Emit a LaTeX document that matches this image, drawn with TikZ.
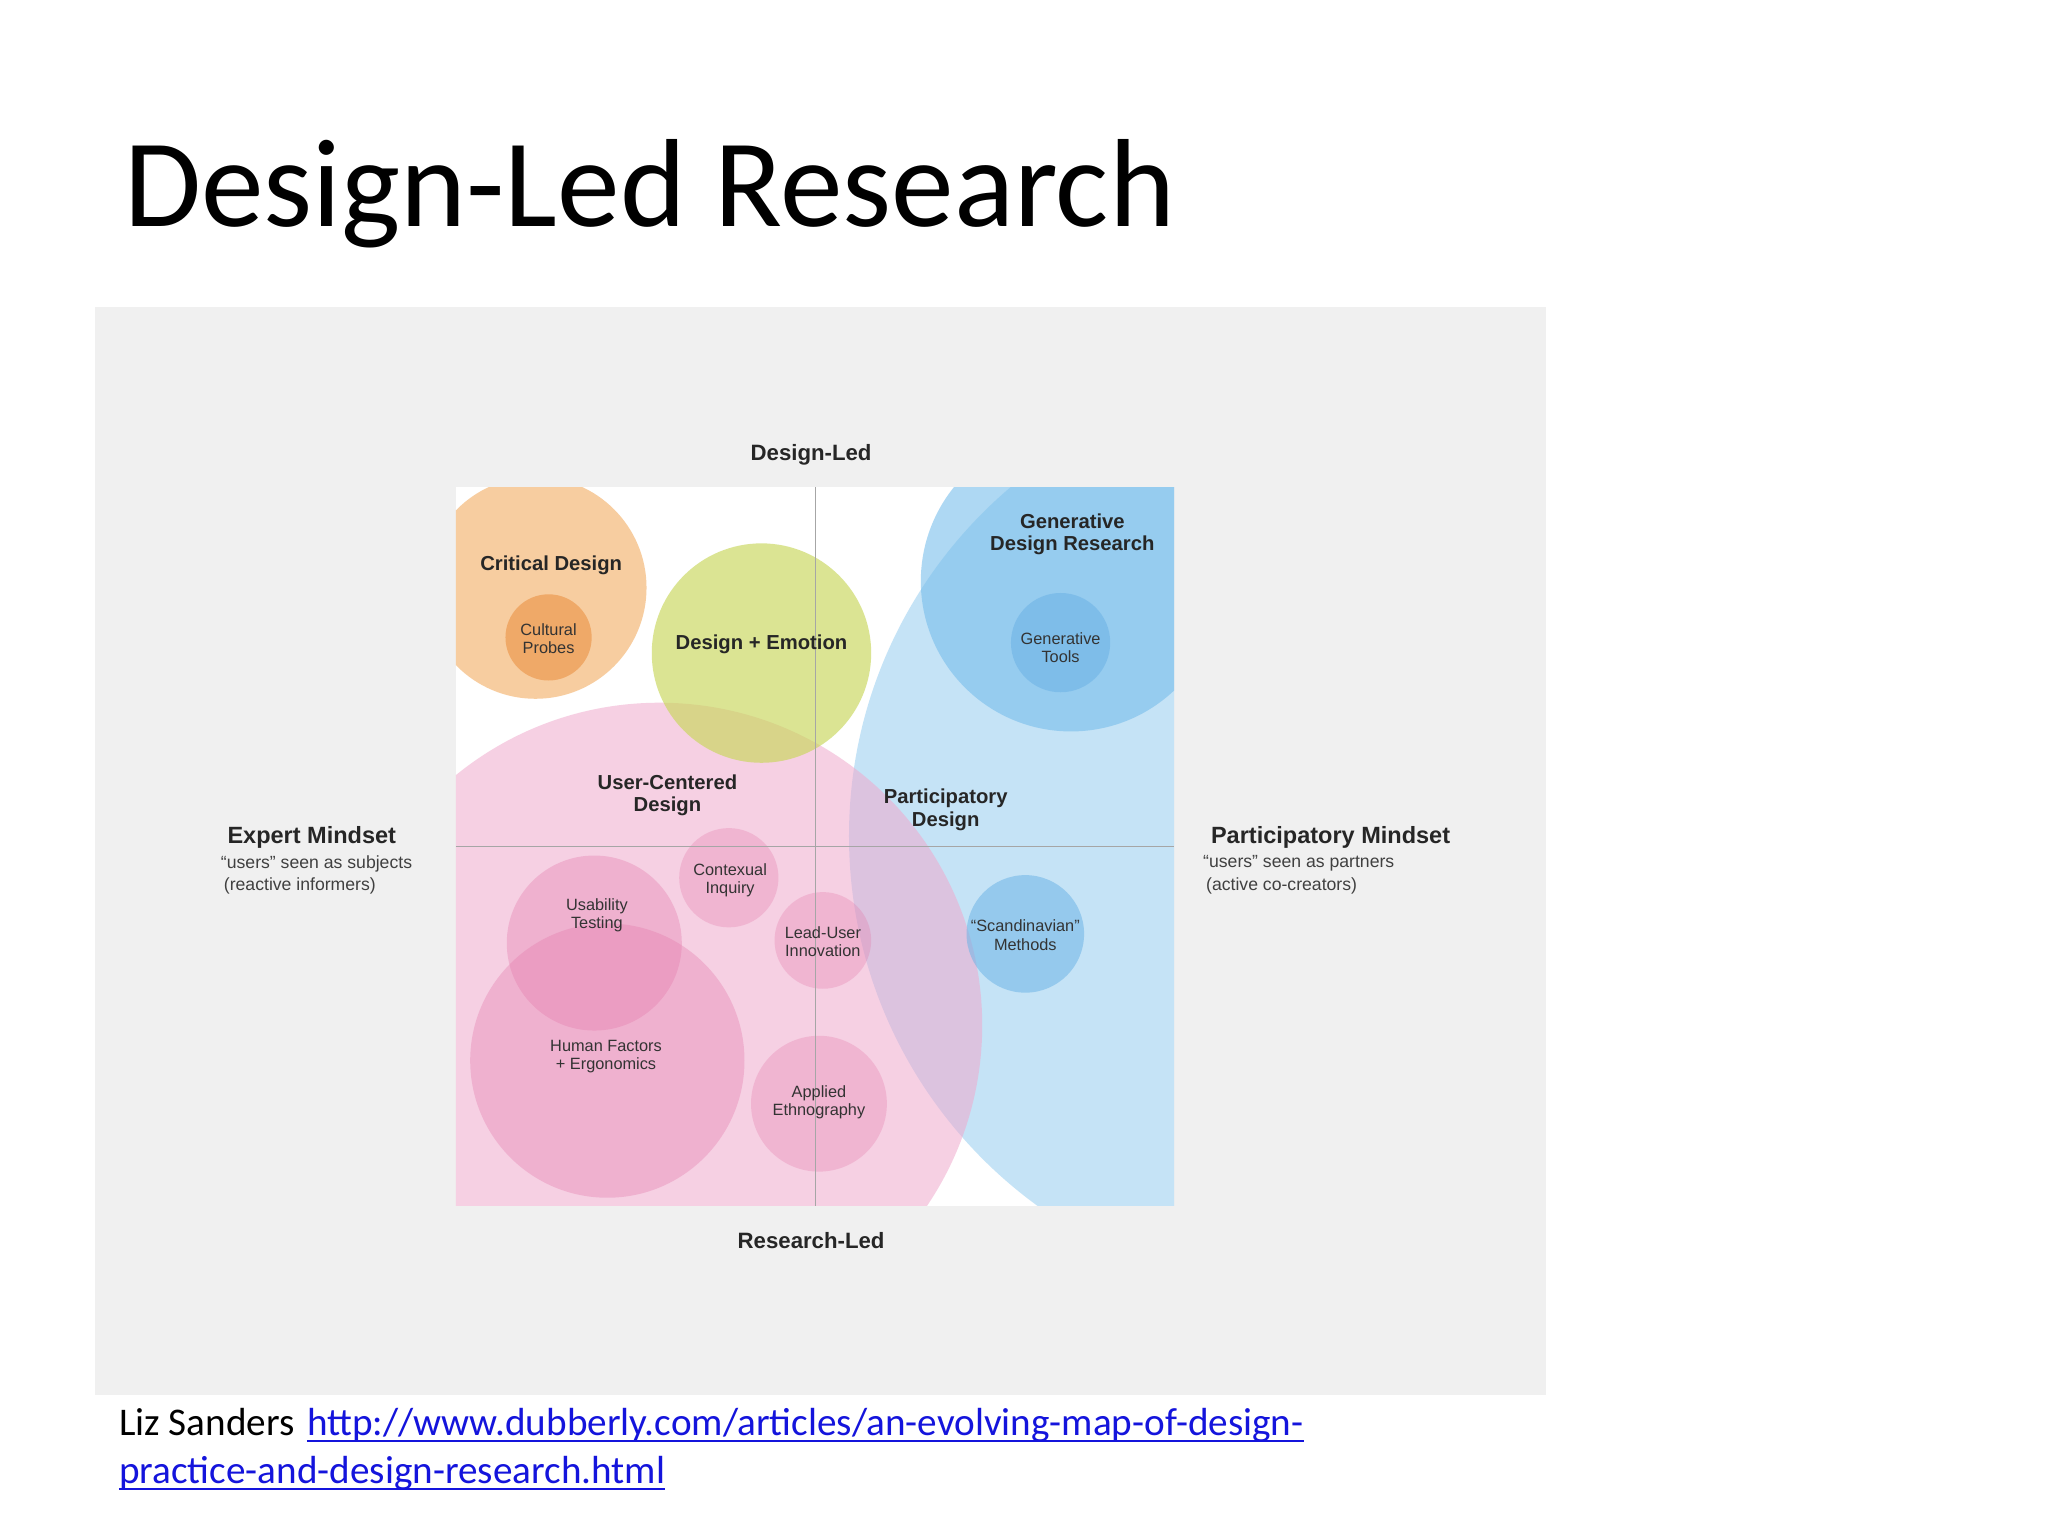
\documentclass[tikz,border=0pt]{standalone}
\usepackage{fontspec}
\setmainfont{Carlito}
\newfontfamily\lab{Liberation Sans}
\definecolor{lblue}{RGB}{150,205,240}
\definecolor{mblue}{RGB}{120,190,235}
\definecolor{dblue}{RGB}{110,180,230}
\definecolor{lpink}{RGB}{240,170,205}
\definecolor{mpink}{RGB}{228,120,170}
\definecolor{lorange}{RGB}{245,185,120}
\definecolor{dorange}{RGB}{238,160,90}
\definecolor{lgreen}{RGB}{200,215,90}
\definecolor{lnkblue}{RGB}{20,20,220}
\begin{document}
\begin{tikzpicture}[x=1pt,y=-1pt,
  lbl/.style={font=\lab\bfseries\fontsize{17}{18}\selectfont,align=center,text=black!85,inner sep=0},
  sml/.style={font=\lab\fontsize{12.5}{14}\selectfont,align=center,text=black!80,inner sep=0},
  side/.style={font=\lab\fontsize{13.5}{17}\selectfont,align=left,text=black!75,inner sep=0},
  lnk/.style={font=\fontsize{30}{34}\selectfont,inner sep=0,text=lnkblue,anchor=base west},
  blob/.style={fill opacity=0.55}]
\useasboundingbox (0,0) rectangle (1568,1176);
\fill[white] (0,0) rectangle (1568,1176);
\node[anchor=west,font=\fontsize{96}{100}\selectfont,inner sep=0] (title) at (95,148) {Design-Led Research};
\fill[black!6] (73,235) rectangle (1184,1068);
\fill[white] (349,373) rectangle (899,923);
\begin{scope}
\clip (349,373) rectangle (899,923);
\fill[fill=lorange,fill opacity=0.7] (410,450) circle (85);
\fill[fill=lblue,fill opacity=0.55] (1000,640) circle (350);
\fill[fill=lpink,fill opacity=0.55] (505,785) circle (247);
\fill[fill=lgreen,fill opacity=0.65] (583,500) circle (84);
\fill[fill=mblue,fill opacity=0.6] (820,445) circle (115);
\end{scope}
\fill[dorange,fill opacity=0.8] (420,488) circle (33);
\fill[dblue,fill opacity=0.6] (812,492) circle (38);
\fill[dblue,fill opacity=0.55] (785,715) circle (45);
\fill[mpink,fill opacity=0.35] (455,722) circle (67);
\fill[mpink,fill opacity=0.35] (465,812) circle (105);
\fill[mpink,fill opacity=0.3] (558,672) circle (38);
\fill[mpink,fill opacity=0.3] (630,720) circle (37);
\fill[mpink,fill opacity=0.3] (627,845) circle (52);
\draw[black!35,line width=0.8] (624,373) -- (624,923);
\draw[black!35,line width=0.8] (349,648) -- (899,648);
\node[lbl] (dl) at (621,348) {Design-Led};
\node[lbl] (rl) at (621,950) {Research-Led};
\node[lbl,font=\lab\bfseries\fontsize{15.5}{17}\selectfont] (cd) at (422,433) {Critical Design};
\node[sml] (cp) at (420,489) {Cultural\\Probes};
\node[lbl,font=\lab\bfseries\fontsize{15.5}{17}\selectfont] (de) at (583,493) {Design + Emotion};
\node[lbl,font=\lab\bfseries\fontsize{15.5}{17}\selectfont] (gdr) at (821,409) {Generative\\Design Research};
\node[sml] (gt) at (812,496) {Generative\\Tools};
\node[lbl,font=\lab\bfseries\fontsize{15.5}{17}\selectfont] (ucd) at (511,609) {User-Centered\\Design};
\node[lbl,font=\lab\bfseries\fontsize{15.5}{17}\selectfont] (pd) at (724,620) {Participatory\\Design};
\node[sml] (ci) at (559,674) {Contexual\\Inquiry};
\node[sml] (ut) at (457,701) {Usability\\Testing};
\node[sml] (lu) at (630,721) {Lead-User\\Innovation};
\node[sml] (sm) at (785,716) {“Scandinavian”\\Methods};
\node[sml] (hf) at (464,809) {Human Factors\\+ Ergonomics};
\node[sml] (ae) at (627,844) {Applied\\Ethnography};
\node[lbl,anchor=west,font=\lab\bfseries\fontsize{18}{19}\selectfont] (em) at (174,641) {Expert Mindset};
\node[side,anchor=north west] (ems) at (169,655) {“users” seen as subjects\\\,(reactive informers)};
\node[lbl,anchor=west,font=\lab\bfseries\fontsize{18}{19}\selectfont] (pm) at (927,641) {Participatory Mindset};
\node[side,anchor=north west] (pms) at (921,655) {“users” seen as partners\\\,(active co-creators)};
\node[lnk,text=black] (liz) at (91,1099) {Liz Sanders};
\node[lnk] (url1) at (235,1099) {http://www.dubberly.com/articles/an-evolving-map-of-design-};
\node[lnk] (url2) at (91,1136) {practice-and-design-research.html};
\draw[lnkblue,line width=1.3] ([yshift=-4]url1.base west) -- ([yshift=-4]url1.base east);
\draw[lnkblue,line width=1.3] ([yshift=-4]url2.base west) -- ([yshift=-4]url2.base east);
\end{tikzpicture}
\end{document}
